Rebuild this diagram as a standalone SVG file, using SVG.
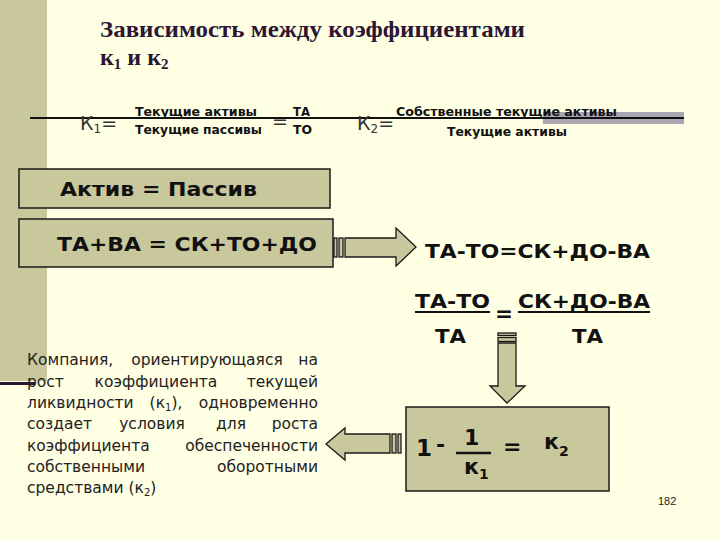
<svg xmlns="http://www.w3.org/2000/svg" width="720" height="540" viewBox="0 0 720 540">
<style>
.bx{fill:#C8C89C;stroke:#1a1a1a;stroke-width:1.5}
.ar{fill:#C8C89C;stroke:#1a1a1a;stroke-width:1.3;stroke-linejoin:miter}
.b{font-family:"DejaVu Sans","Liberation Sans",sans-serif;font-weight:bold;fill:#111}
.k{font-family:"DejaVu Sans","Liberation Sans",sans-serif;font-size:19px;fill:#333}
.t{font-family:"Liberation Serif","DejaVu Serif",serif;font-weight:bold;fill:#2D1533}
.p{font-family:"DejaVu Sans","Liberation Sans",sans-serif;font-size:15.5px;fill:#222}
</style>
<rect width="720" height="540" fill="#FFFFE4"/>
<rect x="0" y="0" width="47" height="381" fill="#C8C89C"/>
<rect x="0" y="382" width="35" height="3" fill="#2A1530"/>
<rect x="543" y="112" width="141" height="12" fill="#A9A5B2"/>
<line x1="30" y1="118" x2="684" y2="118" stroke="#111" stroke-width="2"/>

<g id="title">
<text class="t" x="100" y="37" font-size="24" textLength="425" lengthAdjust="spacingAndGlyphs">Зависимость между коэффициентами</text>
<text class="t" x="100" y="65" font-size="24">к<tspan font-size="15" dy="4">1</tspan><tspan dy="-4"> и к</tspan><tspan font-size="15" dy="4">2</tspan></text>
</g>

<g id="k1-formula">
<text class="k" x="80" y="130">К<tspan font-size="12" dy="3">1</tspan><tspan dy="-3">=</tspan></text>
<text class="b" x="135" y="116" font-size="12" textLength="122" lengthAdjust="spacingAndGlyphs">Текущие активы</text>
<text class="b" x="135" y="134" font-size="12" textLength="127" lengthAdjust="spacingAndGlyphs">Текущие пассивы</text>
<text class="k" x="272" y="128" font-size="16">=</text>
<text class="b" x="293" y="116" font-size="12" textLength="17" lengthAdjust="spacingAndGlyphs">ТА</text>
<text class="b" x="293" y="134" font-size="12" textLength="19" lengthAdjust="spacingAndGlyphs">ТО</text>
</g>

<g id="k2-formula">
<text class="k" x="357" y="130">К<tspan font-size="12" dy="3">2</tspan><tspan dy="-3">=</tspan></text>
<text class="b" x="396" y="116" font-size="12" textLength="221" lengthAdjust="spacingAndGlyphs">Собственные текущие активы</text>
<text class="b" x="447" y="136" font-size="12" textLength="120" lengthAdjust="spacingAndGlyphs">Текущие активы</text>
</g>

<g id="box-aktiv">
<rect class="bx" x="19" y="169" width="311" height="39"/>
<text class="b" x="60" y="196" font-size="19" textLength="197" lengthAdjust="spacingAndGlyphs">Актив = Пассив</text>
</g>

<g id="box-balance">
<rect class="bx" x="19" y="219" width="314" height="48"/>
<text class="b" x="57" y="251" font-size="20" textLength="260" lengthAdjust="spacingAndGlyphs">ТА+ВА = СК+ТО+ДО</text>
</g>

<g id="eq-diff">
<text class="b" x="425" y="258" font-size="20" textLength="225" lengthAdjust="spacingAndGlyphs">ТА-ТО=СК+ДО-ВА</text>
</g>

<g id="eq-ratio">
<text class="b" x="415" y="308" font-size="20" textLength="75" lengthAdjust="spacingAndGlyphs">ТА-ТО</text>
<line x1="415" y1="312" x2="490" y2="312" stroke="#111" stroke-width="2"/>
<text class="b" x="495" y="321" font-size="22" textLength="18" lengthAdjust="spacingAndGlyphs">=</text>
<text class="b" x="518" y="308" font-size="20" textLength="132" lengthAdjust="spacingAndGlyphs">СК+ДО-ВА</text>
<line x1="518" y1="312" x2="650" y2="312" stroke="#111" stroke-width="2"/>
<text class="b" x="435" y="343" font-size="20" textLength="31" lengthAdjust="spacingAndGlyphs">ТА</text>
<text class="b" x="572" y="343" font-size="20" textLength="31" lengthAdjust="spacingAndGlyphs">ТА</text>
</g>

<g id="box-result">
<rect class="bx" x="406" y="407" width="203" height="84"/>
<text class="b" x="416" y="456" font-size="23">1</text>
<text class="b" x="436" y="452" font-size="22">-</text>
<text class="b" x="464" y="445" font-size="22">1</text>
<line x1="456" y1="453" x2="491" y2="453" stroke="#111" stroke-width="2.5"/>
<text class="b" x="464" y="474" font-size="22">к<tspan font-size="14" dy="5">1</tspan></text>
<text class="b" x="503" y="454" font-size="22">=</text>
<text class="b" x="544" y="449" font-size="22">к<tspan font-size="14" dy="7">2</tspan></text>
</g>

<g id="note">
<text class="p" x="27" y="365">Компания,</text>
<text class="p" x="207" y="365" text-anchor="middle">ориентирующаяся</text>
<text class="p" x="318" y="365" text-anchor="end">на</text>
<text class="p" x="27" y="387">рост</text>
<text class="p" x="156" y="387" text-anchor="middle">коэффициента</text>
<text class="p" x="318" y="387" text-anchor="end">текущей</text>
<text class="p" x="27" y="408">ликвидности</text>
<text class="p" x="166" y="408" text-anchor="middle">(к<tspan font-size="10" dy="3">1</tspan><tspan dy="-3">),</tspan></text>
<text class="p" x="318" y="408" text-anchor="end">одновременно</text>
<text class="p" x="27" y="429">создает</text>
<text class="p" x="152" y="429" text-anchor="middle">условия</text>
<text class="p" x="231" y="429" text-anchor="middle">для</text>
<text class="p" x="318" y="429" text-anchor="end">роста</text>
<text class="p" x="27" y="451">коэффициента</text>
<text class="p" x="318" y="451" text-anchor="end">обеспеченности</text>
<text class="p" x="27" y="472">собственными</text>
<text class="p" x="318" y="472" text-anchor="end">оборотными</text>
<text class="p" x="27" y="493">средствами (к<tspan font-size="10" dy="3">2</tspan><tspan dy="-3">)</tspan></text>
</g>

<g id="page-number">
<text x="658" y="505" font-family="Liberation Sans, sans-serif" font-size="11" fill="#222">182</text>
</g>

<g id="connectors">
<rect class="ar" x="334" y="238" width="3" height="19"/>
<rect class="ar" x="339" y="238" width="4" height="19"/>
<path class="ar" d="M345,238 H396 V228 L416,247 L396,266 V257 H345 Z"/>
<rect class="ar" x="498" y="333" width="18" height="2.5"/>
<rect class="ar" x="498" y="337.5" width="18" height="4"/>
<path class="ar" d="M498,343 V386 H490 L507,403 L525,386 H516 V343 Z"/>
<rect class="ar" x="398" y="434" width="3" height="19"/>
<rect class="ar" x="392" y="434" width="4" height="19"/>
<path class="ar" d="M390,434 H345 V428 L326,444 L345,460 V453 H390 Z"/>
</g>
</svg>
